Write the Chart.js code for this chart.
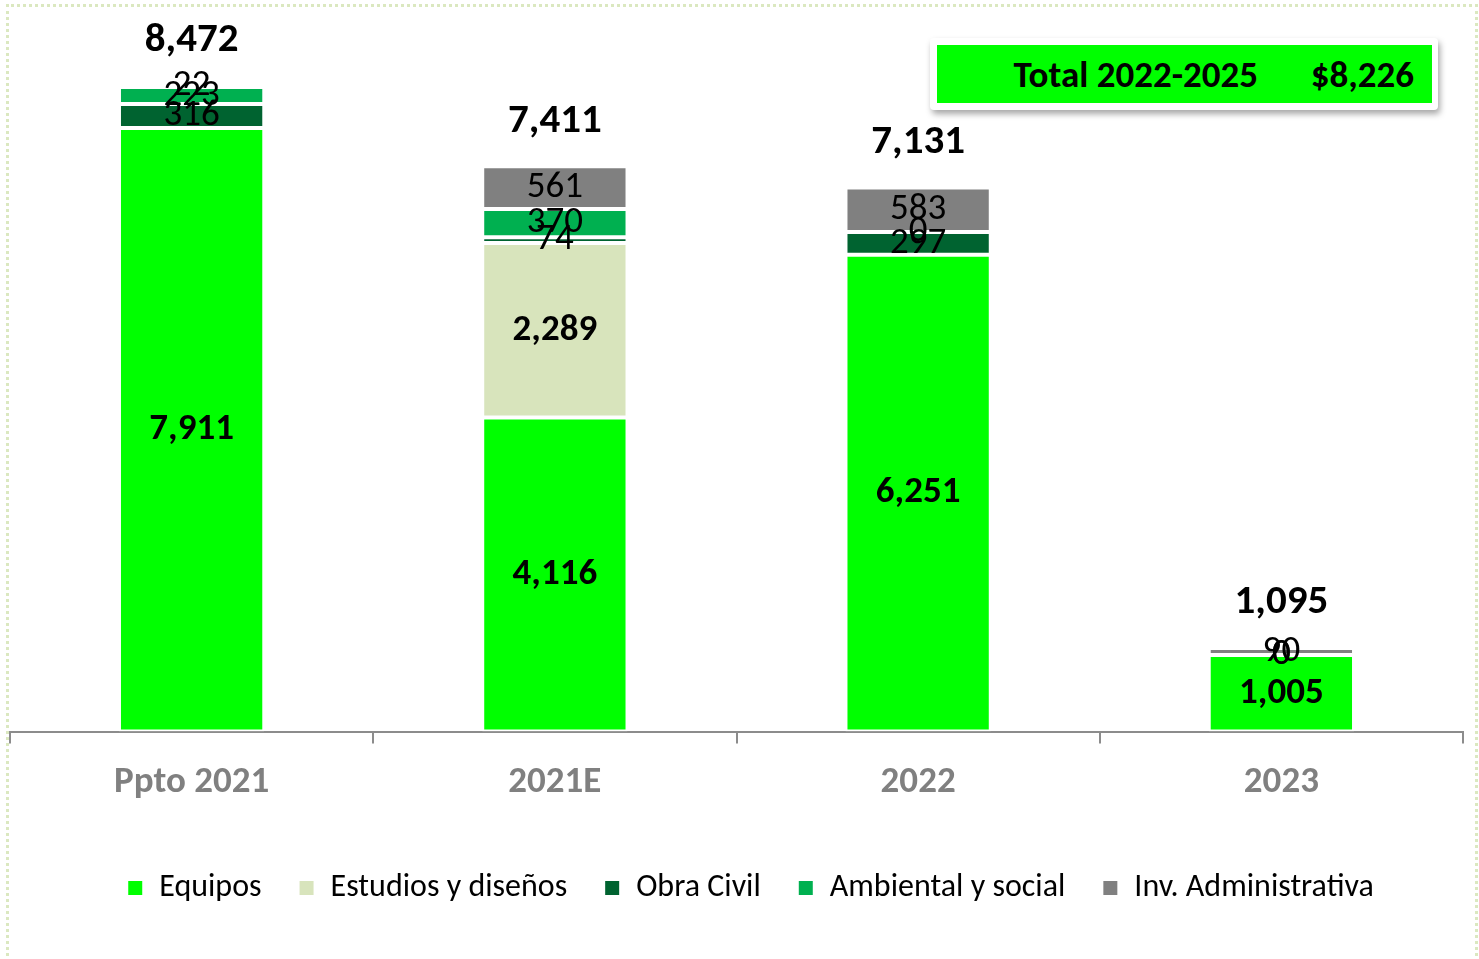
<!DOCTYPE html>
<html>
<head>
<meta charset="utf-8">
<script src="https://cdn.jsdelivr.net/npm/chart.js@4.4.1/dist/chart.umd.min.js"></script>
<style>
    body { margin: 0; background: #fff; }
    #wrap { position: relative; width: 1479px; height: 959px; overflow: hidden; }
    #frame { position: absolute; left: 6px; top: 4px; width: 1472px; height: 970px;
        border: 3px dotted #dbe8c0; box-sizing: border-box; }
    #chart { position: absolute; left: 0; top: 0; }
    #total { position: absolute; left: 930px; top: 38px; width: 508px; height: 72px;
        background: #fff; border-radius: 4px; box-shadow: 2px 4px 6px rgba(0,0,0,0.35); }
    #total .in { position: absolute; left: 7px; top: 7px; right: 6px; bottom: 7px; background: #00ff00;
        font: bold 37px Carlito, Lato, sans-serif; color: #000; }
    #total span { position: absolute; top: 50%; transform: translateY(-50%); white-space: nowrap; }
</style>
</head>
<body>
<div id="wrap">
    <div id="frame"></div>
    <canvas id="chart" width="1479" height="959"></canvas>
    <div id="total"><div class="in"><span style="right:174px">Total 2022-2025</span><span style="right:18px">$8,226</span></div></div>
</div>
<script>
const FONT = 'Carlito, Lato, sans-serif';

const categories = ['Ppto 2021', '2021E', '2022', '2023'];
const equipos = [7911, 4116, 6251, 1005];
const estudios = [null, 2289, null, null];
const obraCivil = [316, 74, 297, 0];
const ambiental = [223, 370, 0, 0];
const invAdmin = [22, 561, 583, 90];
const totals = [8472, 7411, 7131, 1095];

function fmt(v){
    return v.toLocaleString('en-US');
}

// labels inside the segments and totals on top
const labelPlugin = {
    id: 'labels',
    afterLayout(chart){
        // legend sits a bit right of centre in the original
        chart.legend.left += 14;
        chart.legend.right += 14;
    },
    afterDatasetsDraw(chart){
        const ctx = chart.ctx;
        ctx.save();
        ctx.textAlign = 'center';
        ctx.textBaseline = 'middle';
        ctx.fillStyle = '#000';
        chart.data.datasets.forEach((ds, i) => {
            const meta = chart.getDatasetMeta(i);
            ctx.font = (ds.boldLabel ? 'bold ' : '') + '37px ' + FONT;
            meta.data.forEach((bar, j) => {
                const v = ds.data[j];
                if (v === null) return;
                ctx.fillText(fmt(v), bar.x, (bar.y + bar.base) / 2);
            });
        });
        ctx.font = 'bold 41px ' + FONT;
        totals.forEach((t, j) => {
            let top = Infinity, x = 0;
            chart.data.datasets.forEach((ds, i) => {
                const bar = chart.getDatasetMeta(i).data[j];
                if (ds.data[j] !== null && bar.y < top) { top = bar.y; x = bar.x; }
            });
            ctx.fillText(fmt(t), x, top - 45);
        });
        ctx.restore();
    }
};

const ctx = document.getElementById('chart');
//eslint-disable-next-line no-undef
new Chart(ctx, {
    type: 'bar',
    data: {
        labels: categories,
        datasets: [
            { label: 'Equipos', data: equipos, backgroundColor: '#00ff00', boldLabel: true },
            { label: 'Estudios y diseños', data: estudios, backgroundColor: '#d8e4bc', boldLabel: true },
            { label: 'Obra Civil', data: obraCivil, backgroundColor: '#006330' },
            { label: 'Ambiental y social', data: ambiental, backgroundColor: '#00b050' },
            { label: 'Inv. Administrativa', data: invAdmin, backgroundColor: '#808080' }
        ]
    },
    options: {
        responsive: false,
        animation: false,
        datasets: {
            bar: {
                categoryPercentage: 0.40,
                barPercentage: 1,
                borderColor: '#ffffff',
                borderWidth: 2,
                borderSkipped: false
            }
        },
        layout: { padding: { left: 10, right: 16, top: 45, bottom: 45 } },
        scales: {
            x: {
                stacked: true,
                grid: { offset: true, drawOnChartArea: false, color: '#8c8c8c', lineWidth: 2, tickLength: 12 },
                border: { color: '#8c8c8c', width: 2 },
                ticks: { color: '#808080', font: { family: FONT, size: 37, weight: 'bold' }, padding: 17 },
                afterFit(scale){ scale.height += 13; }
            },
            y: {
                stacked: true,
                display: false,
                min: 0,
                max: 9000
            }
        },
        plugins: {
            legend: {
                position: 'bottom',
                labels: {
                    color: '#000',
                    boxWidth: 16,
                    boxHeight: 16,
                    padding: 37,
                    font: { family: FONT, size: 32 }
                }
            },
            tooltip: { enabled: false }
        }
    },
    plugins: [labelPlugin]
});
</script>
</body>
</html>
